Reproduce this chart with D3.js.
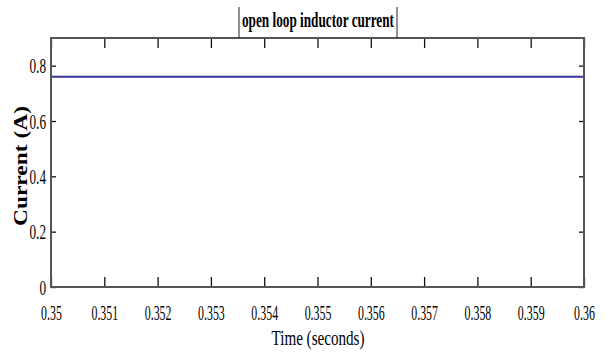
<!DOCTYPE html>
<html>
<head>
<meta charset="utf-8">
<script src="https://cdn.jsdelivr.net/npm/d3@7"></script>
<style>
  body { margin: 0; background: #fff; }
  svg { display: block; }
</style>
</head>
<body>
<svg id="chart" width="606" height="356"></svg>
<script>
// open loop inductor current, steady state between 0.35 s and 0.36 s
const timeTicks = [0.35, 0.351, 0.352, 0.353, 0.354, 0.355, 0.356, 0.357, 0.358, 0.359, 0.36]
const currentTicks = [0, 0.2, 0.4, 0.6, 0.8]
const timeValues = [0.35, 0.36]
const currentValues = [0.76, 0.76]

const width = 606, height = 356
const m = {left: 51, right: 22, top: 38, bottom: 69}
const svg = d3.select("#chart")

let x = d3.scaleLinear().domain([0.35, 0.36]).range([m.left, width - m.right])
let y = d3.scaleLinear().domain([0, 0.9]).range([height - m.bottom, m.top])

const serif = "'Liberation Serif', 'Times New Roman', 'DejaVu Serif', serif"

// squeeze text horizontally, like the stretched screenshot
function squeeze (sel, k) {
  sel.each(function () {
    let w = this.getComputedTextLength()
    d3.select(this).attr("textLength", w * k).attr("lengthAdjust", "spacingAndGlyphs")
  })
}

// bottom / top axes
let xb = svg.append("g")
  .attr("transform", `translate(0,${height - m.bottom})`)
  .call(d3.axisBottom(x).tickValues(timeTicks).tickSizeInner(-10).tickSizeOuter(0).tickPadding(17)
    .tickFormat(d => d3.format("")(+d.toFixed(3))))
xb.selectAll("text").attr("font-family", serif).attr("font-size", 22).attr("fill", "#000").call(squeeze, 0.54)

svg.append("g")
  .attr("transform", `translate(0,${m.top})`)
  .call(d3.axisTop(x).tickValues(timeTicks).tickSizeInner(-10).tickSizeOuter(0).tickFormat(""))

// left / right axes
let yl = svg.append("g")
  .attr("transform", `translate(${m.left},0)`)
  .call(d3.axisLeft(y).tickValues(currentTicks).tickSizeInner(-5).tickSizeOuter(0).tickPadding(5)
    .tickFormat(d => d === 0 ? "0" : d3.format(".1f")(d)))
yl.selectAll("text").attr("font-family", serif).attr("font-size", 22).attr("fill", "#000").call(squeeze, 0.6)

svg.append("g")
  .attr("transform", `translate(${width - m.right},0)`)
  .call(d3.axisRight(y).tickValues(currentTicks).tickSizeInner(-5).tickSizeOuter(0).tickFormat(""))

svg.selectAll(".domain").remove()
svg.selectAll(".tick line").attr("stroke", "#111").attr("stroke-width", 1.3)

// the signal
let line = d3.line().x(d => x(d[0])).y(d => y(d[1]))
svg.append("path")
  .datum(d3.zip(timeValues, currentValues))
  .attr("d", line)
  .attr("fill", "none")
  .attr("stroke", "#34349c")
  .attr("stroke-width", 2)

// frame
svg.append("rect")
  .attr("x", m.left).attr("y", m.top)
  .attr("width", width - m.left - m.right)
  .attr("height", height - m.top - m.bottom)
  .attr("fill", "none")
  .attr("stroke", "#555")
  .attr("stroke-width", 2)

// title with its little bars
svg.append("text")
  .attr("x", 318).attr("y", 27)
  .attr("text-anchor", "middle")
  .attr("font-family", serif).attr("font-weight", "bold").attr("font-size", 21)
  .attr("textLength", 152).attr("lengthAdjust", "spacingAndGlyphs")
  .text("open loop inductor current")
svg.append("line").attr("x1", 239).attr("x2", 239).attr("y1", 7).attr("y2", m.top).attr("stroke", "#222")
svg.append("line").attr("x1", 397).attr("x2", 397).attr("y1", 7).attr("y2", m.top).attr("stroke", "#222")

// axis labels
svg.append("text")
  .attr("x", 318).attr("y", 345)
  .attr("text-anchor", "middle")
  .attr("font-family", serif).attr("font-size", 21)
  .attr("textLength", 93).attr("lengthAdjust", "spacingAndGlyphs")
  .text("Time (seconds)")

svg.append("text")
  .attr("transform", "translate(27,166) rotate(-90)")
  .attr("text-anchor", "middle")
  .attr("font-family", serif).attr("font-weight", "bold").attr("font-size", 18)
  .attr("textLength", 120).attr("lengthAdjust", "spacingAndGlyphs")
  .text("Current (A)")
</script>
</body>
</html>
